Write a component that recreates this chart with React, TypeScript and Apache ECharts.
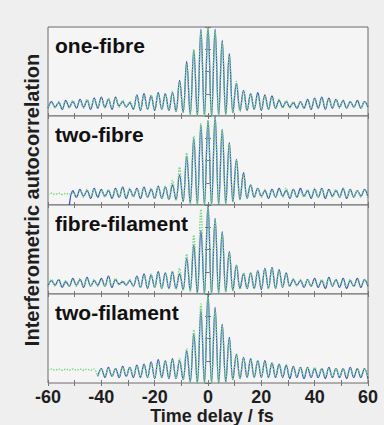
import React, { useEffect, useRef } from 'react';
import * as echarts from 'echarts';

// Sampling grid: fringe maxima and minima alternate every HALF_PERIOD fs starting at T_START
const T_START = -60;
const HALF_PERIOD = 4 / 3;

const panelNames = ['one-fibre', 'two-fibre', 'fibre-filament', 'two-filament'];
const xTickLabels = [-60, -40, -20, 0, 20, 40, 60];
const xTitle = 'Time delay / fs';
const yTitle = 'Interferometric autocorrelation';

// ---- one-fibre ----
const blueUpper1 = [1.3,1.2,1.4,1.3,1.5,1.4,1.6,1.7,1.5,1.7,1.3,1.2,1.9,2.0,1.8,2.1,2.0,2.1,3.2,4.9,5.9,7.8,8.0,7.8,6.8,5.6,2.9,2.3,2.0,2.1,1.9,1.8,1.4,1.3,1.2,1.3,1.5,1.6,1.7,1.6,1.5,1.4,1.3,1.4,1.3];
const blueLower1 = [0.7,0.8,0.6,0.8,0.7,0.8,0.6,0.7,0.8,0.6,0.9,0.8,0.6,0.5,0.6,0.5,0.6,0.5,0.4,0.3,0.15,0.05,0,0,0.05,0.15,0.3,0.5,0.5,0.6,0.5,0.6,0.7,0.8,0.8,0.7,0.7,0.6,0.7,0.6,0.7,0.8,0.7,0.8,0.7,0.8];
const greenUpper1 = [1.2,1.3,1.3,1.4,1.4,1.5,1.5,1.6,1.6,1.6,1.4,1.3,1.8,1.9,1.9,2.0,2.0,2.2,3.0,4.6,6.0,7.6,8.0,7.6,6.6,5.4,3.1,2.2,2.0,1.9,1.8,1.7,1.5,1.4,1.3,1.3,1.4,1.5,1.6,1.5,1.5,1.4,1.3,1.3,1.3];
const greenLower1 = [0.8,0.7,0.7,0.7,0.8,0.7,0.7,0.8,0.7,0.7,0.8,0.8,0.7,0.6,0.6,0.6,0.6,0.5,0.4,0.3,0.1,0.05,0,0,0.05,0.1,0.3,0.4,0.5,0.6,0.6,0.6,0.7,0.7,0.7,0.8,0.7,0.7,0.7,0.7,0.8,0.7,0.7,0.8,0.7,0.8];

// ---- two-fibre ----
const blueUpper2 = [null,null,null,1.3,1.4,1.3,1.5,1.4,1.3,1.5,1.6,1.4,1.5,1.6,1.4,1.7,1.6,1.8,2.7,4.4,6.0,7.2,7.6,8.0,6.8,5.6,4.1,2.9,1.8,1.5,1.3,1.4,1.5,1.3,1.4,1.5,1.3,1.4,1.5,1.4,1.3,1.5,1.4,1.3,1.4];
const blueLower2 = [null,null,null,0.0,0.7,0.8,0.6,0.7,0.8,0.6,0.7,0.6,0.8,0.6,0.7,0.6,0.6,0.5,0.5,0.3,0.15,0.05,0,0,0.05,0.15,0.3,0.5,0.6,0.7,0.8,0.6,0.7,0.8,0.6,0.7,0.8,0.6,0.7,0.6,0.8,0.7,0.6,0.7,0.8,0.7];
const greenUpper2 = [1.05,1.05,1.05,1.1,1.3,1.4,1.4,1.3,1.4,1.4,1.5,1.5,1.4,1.5,1.5,1.6,1.7,2.2,3.4,4.7,6.2,7.3,7.6,7.8,6.7,5.5,4.0,2.7,1.8,1.5,1.4,1.3,1.4,1.5,1.4,1.3,1.4,1.5,1.4,1.3,1.4,1.5,1.4,1.3,1.4];
const greenLower2 = [0.95,0.95,0.95,0.95,0.8,0.7,0.7,0.8,0.7,0.7,0.7,0.7,0.7,0.7,0.7,0.6,0.6,0.5,0.4,0.3,0.15,0.05,0,0,0.05,0.15,0.3,0.5,0.6,0.7,0.7,0.7,0.7,0.7,0.7,0.7,0.7,0.7,0.7,0.7,0.7,0.7,0.7,0.7,0.7,0.7];

// ---- fibre-filament ----
const blueUpper3 = [1.2,1.3,1.1,1.4,1.3,1.5,1.2,1.4,1.6,1.3,1.1,1.2,1.6,1.8,1.7,2.0,1.9,2.0,1.8,3.2,4.4,5.7,8.0,6.8,5.6,3.8,2.6,1.8,1.9,2.1,2.3,2.4,2.2,1.9,1.3,1.2,1.3,1.4,1.2,1.5,1.3,1.4,1.2,1.4,1.3];
const blueLower3 = [0.7,0.8,0.6,0.7,0.8,0.6,0.7,0.8,0.7,0.6,0.9,0.8,0.7,0.6,0.5,0.6,0.5,0.5,0.5,0.4,0.3,0.1,0,0,0.1,0.2,0.3,0.5,0.5,0.5,0.4,0.5,0.5,0.6,0.7,0.8,0.6,0.7,0.6,0.5,0.7,0.6,0.5,0.7,0.6,0.7];
const greenUpper3 = [1.3,1.3,1.2,1.3,1.4,1.4,1.3,1.3,1.5,1.4,1.2,1.3,1.5,1.7,1.8,1.9,1.9,2.0,2.3,3.6,5.3,7.6,7.9,6.6,5.4,3.7,2.6,1.9,1.9,2.0,2.2,2.3,2.1,1.8,1.4,1.3,1.3,1.3,1.3,1.4,1.3,1.3,1.3,1.3,1.3];
const greenLower3 = [0.7,0.7,0.7,0.7,0.7,0.7,0.7,0.7,0.7,0.7,0.8,0.8,0.7,0.6,0.6,0.6,0.5,0.5,0.4,0.3,0.2,0.05,0,0,0.1,0.2,0.3,0.4,0.5,0.5,0.5,0.5,0.5,0.6,0.7,0.7,0.7,0.7,0.7,0.7,0.7,0.7,0.7,0.7,0.7,0.7];

// ---- two-filament ----
const blueUpper4 = [null,null,null,null,null,null,null,1.3,1.4,1.3,1.5,1.4,1.6,1.7,1.9,2.1,2.0,2.2,2.0,2.9,4.4,6.5,8.0,6.8,5.3,4.1,2.6,2.3,2.2,2.0,2.0,1.8,1.7,1.6,1.5,1.4,1.4,1.3,1.3,1.4,1.3,1.3,1.4,1.3,1.3];
const blueLower4 = [null,null,null,null,null,null,null,0.6,0.5,0.6,0.5,0.6,0.5,0.5,0.5,0.4,0.5,0.4,0.4,0.3,0.1,0,0,0,0,0.1,0.3,0.4,0.5,0.5,0.5,0.5,0.5,0.5,0.4,0.5,0.4,0.5,0.5,0.4,0.5,0.5,0.4,0.5,0.5,0.4];
const greenUpper4 = [1.25,1.25,1.25,1.25,1.25,1.25,1.25,1.3,1.3,1.3,1.4,1.4,1.5,1.6,1.8,1.9,2.0,2.1,2.2,3.1,4.8,7.1,7.8,6.5,5.1,3.9,2.6,2.2,2.1,2.0,1.9,1.8,1.7,1.6,1.5,1.4,1.4,1.4,1.3,1.3,1.3,1.3,1.3,1.3,1.3];
const greenLower4 = [1.15,1.15,1.15,1.15,1.15,1.15,1.15,0.7,0.6,0.6,0.6,0.6,0.6,0.6,0.5,0.5,0.5,0.5,0.4,0.3,0.1,0,0,0,0.05,0.1,0.3,0.4,0.5,0.5,0.6,0.6,0.6,0.6,0.6,0.6,0.6,0.6,0.6,0.6,0.6,0.6,0.6,0.6,0.6,0.6];

const panels = [
  { blue: [blueLower1, blueUpper1], green: [greenLower1, greenUpper1] },
  { blue: [blueLower2, blueUpper2], green: [greenLower2, greenUpper2] },
  { blue: [blueLower3, blueUpper3], green: [greenLower3, greenUpper3] },
  { blue: [blueLower4, blueUpper4], green: [greenLower4, greenUpper4] },
];

function interleave(lower: (number | null)[], upper: (number | null)[]) {
  const pts: any[] = [];
  for (let k = 0; k < lower.length; k++) {
    const l = lower[k];
    pts.push([T_START + 2 * k * HALF_PERIOD, l === null ? '-' : l]);
    if (k < upper.length) {
      const u = upper[k];
      pts.push([T_START + (2 * k + 1) * HALF_PERIOD, u === null ? '-' : u]);
    }
  }
  return pts;
}

const FONT = '"Liberation Sans", Arial, Helvetica, sans-serif';
const PANEL_TOPS = [27, 116, 205, 294];
const PANEL_H = 89;
const LEFT = 48;
const WIDTH = 320;

export default function App() {
  const ref = useRef<HTMLDivElement>(null);
  useEffect(() => {
    if (!ref.current) return;
    const chart = echarts.init(ref.current, undefined, { renderer: 'svg' });
    const grids = PANEL_TOPS.map((top) => ({
      left: LEFT, width: WIDTH, top, height: PANEL_H,
      show: true, borderColor: '#6a6a6a', borderWidth: 1, backgroundColor: '#f6f5f6',
    }));
    const xAxes: any[] = [];
    const yAxes: any[] = [];
    const series: any[] = [];
    PANEL_TOPS.forEach((_, i) => {
      const baseX = {
        type: 'value', gridIndex: i, min: -60, max: 60, interval: 10,
        axisLine: { show: false }, splitLine: { show: false },
        axisTick: { show: true, inside: true, length: 3, lineStyle: { color: '#777' } },
      };
      xAxes.push({
        ...baseX, position: 'bottom',
        axisLabel: i === 3 ? {
          show: true, margin: 5, fontSize: 18, fontWeight: 'bold', color: '#1e1e1e', fontFamily: FONT,
          formatter: (v: number) => (xTickLabels.includes(v) ? String(v) : ''),
        } : { show: false },
      });
      xAxes.push({ ...baseX, position: 'top', axisLabel: { show: false } });
      const baseY = {
        type: 'value', gridIndex: i, min: 0, max: 8, interval: 2,
        axisLine: { show: false }, splitLine: { show: false }, axisLabel: { show: false },
        axisTick: { show: true, inside: true, length: 3, lineStyle: { color: '#777' } },
      };
      yAxes.push({ ...baseY, position: 'left' });
      yAxes.push({ ...baseY, position: 'right' });
      const p = panels[i];
      series.push({
        type: 'line', xAxisIndex: 2 * i, yAxisIndex: 2 * i, showSymbol: false, symbol: 'none',
        smooth: 0.4, data: interleave(p.blue[0], p.blue[1]),
        lineStyle: { color: '#3b4fc4', width: 1.3 }, silent: true, clip: true,
      });
      series.push({
        type: 'line', xAxisIndex: 2 * i, yAxisIndex: 2 * i, showSymbol: false, symbol: 'none',
        smooth: 0.4, data: interleave(p.green[0], p.green[1]),
        lineStyle: { color: '#6fd47a', width: 1.4, type: 'dotted' }, silent: true, clip: true,
      });
    });
    const graphics: any[] = PANEL_TOPS.map((top, i) => ({
      type: 'text', left: 55, top: top + 8,
      style: { text: panelNames[i], font: `bold 21px ${FONT}`, fill: '#111' },
      z: 100,
    }));
    graphics.push({
      type: 'text', x: 32, y: 200, rotation: Math.PI / 2,
      style: { text: yTitle, font: `bold 20px ${FONT}`, fill: '#1e1e1e', textAlign: 'center', textVerticalAlign: 'middle' },
    });
    graphics.push({
      type: 'text', x: 212, y: 416,
      style: { text: xTitle, font: `bold 18px ${FONT}`, fill: '#1e1e1e', textAlign: 'center', textVerticalAlign: 'middle' },
    });
    chart.setOption({
      animation: false,
      backgroundColor: '#f0eff0',
      grid: grids,
      xAxis: xAxes,
      yAxis: yAxes,
      series,
      graphic: graphics,
    });
    return () => chart.dispose();
  }, []);
  return (
    <div
      ref={ref}
      style={{ position: 'fixed', left: 0, top: 0, width: 384, height: 425, background: '#f0eff0' }}
    />
  );
}
